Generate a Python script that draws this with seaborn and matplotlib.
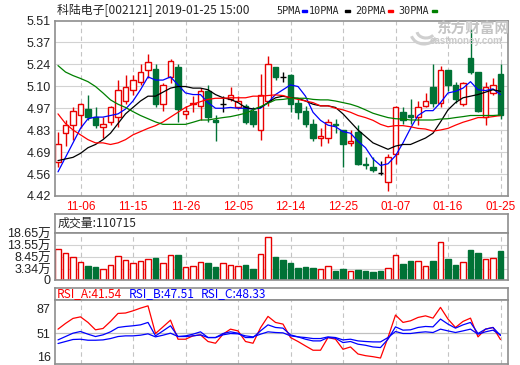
import numpy as np
import pandas as pd
import matplotlib
matplotlib.use("Agg")
import matplotlib.pyplot as plt
from matplotlib.patches import Rectangle, Arc
import seaborn as sns

sns.set_style("white")
plt.rcParams['font.family'] = ['Liberation Sans', 'Noto Sans CJK SC', 'DejaVu Sans']

# ---------------- data ----------------
title = "科陆电子[002121] 2019-01-25 15:00"
trade_days = pd.bdate_range("2018-11-01", "2019-01-25")
trade_days = trade_days[~trade_days.isin(pd.to_datetime(["2018-12-31", "2019-01-01"]))]
date_labels = ["11-06", "11-15", "11-26", "12-05", "12-14", "12-25", "01-07", "01-16", "01-25"]

opens = [4.63, 4.81, 4.86, 4.92, 4.96, 4.91, 4.85, 4.88, 4.91, 5.01,
         5.08, 5.13, 5.20, 5.21, 4.99, 5.16, 5.22, 4.93, 4.99, 4.98,
         5.07, 4.89, 4.99, 5.02, 4.97, 4.98, 4.95, 4.83, 5.01, 5.22,
         5.16, 5.17, 5.00, 4.95, 4.87, 4.78, 4.78, 4.87, 4.83, 4.75,
         4.82, 4.62, 4.60, 4.56, 4.51, 4.68, 4.94, 4.92, 4.91, 4.98,
         5.10, 5.00, 5.20, 5.11, 4.99, 5.28, 5.19, 4.91, 5.06, 5.18]
closes = [4.74, 4.86, 4.95, 4.99, 4.91, 4.86, 4.87, 4.97, 5.08, 5.10,
          5.14, 5.19, 5.25, 4.99, 5.11, 5.26, 4.96, 4.95, 5.00, 5.07,
          4.91, 4.88, 4.99, 5.05, 5.01, 4.88, 4.87, 5.05, 5.24, 5.16,
          5.16, 4.99, 4.94, 4.87, 4.78, 4.79, 4.88, 4.86, 4.74, 4.76,
          4.62, 4.61, 4.58, 4.56, 4.66, 4.97, 4.89, 4.91, 4.97, 5.01,
          5.00, 5.20, 5.11, 5.02, 5.12, 5.19, 4.95, 5.10, 5.11, 4.92]
highs = [4.82, 4.89, 4.97, 5.00, 5.05, 4.97, 4.91, 4.98, 5.14, 5.17,
         5.17, 5.24, 5.30, 5.24, 5.12, 5.27, 5.24, 4.98, 5.04, 5.09,
         5.11, 4.92, 5.04, 5.10, 5.04, 4.99, 4.97, 5.18, 5.29, 5.22,
         5.19, 5.18, 5.03, 4.98, 4.90, 4.84, 4.90, 4.90, 4.83, 4.83,
         4.86, 4.66, 4.66, 4.64, 4.68, 4.98, 4.97, 5.02, 5.01, 5.06,
         5.24, 5.23, 5.20, 5.13, 5.13, 5.46, 5.19, 5.13, 5.15, 5.24]
lows = [4.60, 4.73, 4.77, 4.84, 4.89, 4.84, 4.78, 4.86, 4.85, 4.99,
        5.05, 5.11, 5.15, 4.97, 4.95, 5.12, 4.88, 4.90, 4.94, 4.89,
        4.88, 4.76, 4.94, 5.01, 4.96, 4.87, 4.85, 4.77, 4.98, 5.14,
        5.13, 4.94, 4.90, 4.85, 4.76, 4.73, 4.75, 4.81, 4.60, 4.73,
        4.61, 4.59, 4.57, 4.55, 4.45, 4.62, 4.87, 4.87, 4.86, 4.97,
        4.97, 4.97, 5.07, 5.00, 4.98, 5.18, 4.94, 4.86, 5.05, 4.90]

ma5 = [4.57, 4.66, 4.75, 4.84, 4.90, 4.91, 4.91, 4.92, 4.93, 4.96,
       5.01, 5.08, 5.16, 5.14, 5.14, 5.16, 5.11, 5.06, 5.05, 5.05,
       5.00, 4.965, 4.965, 4.97, 4.965, 4.965, 4.96, 4.965, 5.00, 5.05,
       5.08, 5.11, 5.10, 5.04, 4.94, 4.89, 4.86, 4.85, 4.82, 4.81,
       4.76, 4.72, 4.65, 4.61, 4.62, 4.67, 4.75, 4.84, 4.92, 4.95,
       4.95, 5.00, 5.06, 5.07, 5.09, 5.13, 5.08, 5.075, 5.085, 5.05]
ma10 = [4.64, 4.65, 4.66, 4.685, 4.72, 4.74, 4.77, 4.81, 4.87, 4.93,
        4.97, 5.01, 5.04, 5.04, 5.065, 5.09, 5.10, 5.10, 5.09, 5.09,
        5.08, 5.05, 5.03, 5.02, 5.00, 4.97, 4.96, 4.97, 5.00, 5.03,
        5.04, 5.03, 5.027, 5.01, 4.99, 4.98, 4.98, 4.97, 4.93, 4.88,
        4.83, 4.79, 4.75, 4.73, 4.71, 4.73, 4.74, 4.74, 4.76, 4.78,
        4.81, 4.88, 4.955, 5.00, 5.03, 5.04, 5.05, 5.065, 5.08, 5.07]
ma20 = [4.93, 4.87, 4.83, 4.80, 4.77, 4.75, 4.75, 4.74, 4.75, 4.77,
        4.80, 4.82, 4.84, 4.857, 4.88, 4.91, 4.94, 4.97, 4.99, 5.006,
        5.02, 5.027, 5.027, 5.03, 5.03, 5.03, 5.04, 5.04, 5.044, 5.048,
        5.044, 5.03, 5.02, 5.01, 5.00, 4.98, 4.98, 4.965, 4.955, 4.94,
        4.92, 4.907, 4.89, 4.865, 4.85, 4.857, 4.857, 4.85, 4.84, 4.836,
        4.823, 4.83, 4.84, 4.86, 4.878, 4.892, 4.907, 4.907, 4.913, 4.92]
ma30 = [5.23, 5.19, 5.168, 5.15, 5.13, 5.10, 5.06, 5.017, 4.99, 4.97,
        4.944, 4.92, 4.90, 4.88, 4.865, 4.865, 4.865, 4.865, 4.878, 4.892,
        4.892, 4.90, 4.907, 4.913, 4.923, 4.934, 4.955, 4.975, 4.996, 5.017,
        5.02, 5.027, 5.027, 5.027, 5.02, 5.017, 5.017, 5.01, 5.00, 4.99,
        4.975, 4.955, 4.934, 4.92, 4.907, 4.90, 4.898, 4.892, 4.892, 4.892,
        4.892, 4.898, 4.90, 4.907, 4.913, 4.92, 4.92, 4.92, 4.92, 4.923]

volume_wan = [11.84, 10.14, 8.44, 6.32, 4.74, 4.32, 3.34, 5.04, 8.86, 7.16,
              6.02, 6.74, 7.59, 8.14, 6.02, 9.29, 9.42, 4.19, 4.61, 6.32,
              6.02, 4.32, 6.02, 5.04, 4.61, 5.17, 3.47, 9.84, 16.94, 8.57,
              7.29, 6.15, 3.89, 4.32, 3.89, 3.34, 4.61, 2.62, 3.47, 2.49,
              3.04, 2.62, 2.19, 2.62, 3.77, 9.29, 5.59, 6.87, 6.74, 4.61,
              6.87, 14.82, 7.72, 5.17, 6.32, 11.54, 10.27, 7.59, 8.01, 11.07]
latest_volume = 110715

rsi_a = [57, 65.5, 73, 75.3, 67, 56, 58, 68.5, 80.4, 81,
         84.3, 88.3, 91.7, 50.5, 60.4, 70.4, 42, 42, 47, 48.5,
         38.6, 36, 49.5, 57, 54.4, 38.6, 36, 59, 76, 67,
         64.5, 44.5, 38.6, 32, 25.6, 25.6, 44.5, 42, 27, 30.5,
         20, 17.5, 16, 14, 44.5, 78, 67, 69.4, 74.4, 76.8,
         73.4, 89.4, 72, 59.5, 68.5, 73.4, 45.5, 57, 59.5, 41.54]
rsi_b = [41, 46, 51, 53.5, 49.5, 46, 48.5, 53, 59.5, 61,
         62, 63.4, 67, 47, 54.4, 62, 46, 47, 49.5, 53,
         44.5, 44.5, 50.5, 53, 51, 44.5, 44.5, 54.4, 63.4, 59.5,
         58.5, 48.5, 45.5, 42, 39.5, 39.5, 44.5, 43.5, 37, 38.6,
         34.6, 33, 30.5, 29.6, 42, 60.4, 55.5, 56, 59.5, 61,
         60.4, 72, 64.5, 58.5, 63.4, 67, 50.5, 57, 59.5, 47.51]
rsi_c = [35.6, 38.6, 41.6, 42, 40.5, 40.5, 41, 43, 46, 47,
         47, 48, 50, 45.5, 48, 51, 46, 46, 47, 48.5,
         44.5, 44.5, 48.5, 50.5, 50, 47, 45.5, 49.5, 53, 52,
         51.5, 47, 45.5, 44.5, 43, 43, 45.5, 44.5, 41, 42,
         39.5, 38.6, 38, 38, 44.5, 53.5, 50.5, 50.5, 52, 53,
         52, 57, 54.4, 52, 54.4, 57, 49.5, 53, 55.5, 48.33]

price_ticks = ["4.42", "4.56", "4.69", "4.83", "4.97", "5.10", "5.24", "5.37", "5.51"]
vol_ticks = [0, 3.34, 8.45, 13.55, 18.65]
rsi_ticks = [16, 51, 87]
legend_labels = ["5PMA", "10PMA", "20PMA", "30PMA"]

# ---------------- styling ----------------
RED = "#e80000"
GREEN = "#007236"
BORDER = "#8e8e8e"
GRID = "#d2d2d2"
VGRID = "#c4c4c4"
MA_COLORS = ["#0000ff", "black", "#ff0000", "#008000"]
W, H = 520, 365
L, R = 55, 508

df = pd.DataFrame({"date": trade_days.strftime("%m-%d"), "open": opens, "close": closes,
                   "high": highs, "low": lows, "ma5": ma5, "ma10": ma10, "ma20": ma20,
                   "ma30": ma30, "vol": volume_wan, "rsi_a": rsi_a, "rsi_b": rsi_b, "rsi_c": rsi_c})
df["i"] = np.arange(len(df))
prev_close = df["close"].shift(1)
df["up"] = (df["close"] > df["open"]) | ((df["close"] == df["open"]) & (df["close"] > prev_close))
tick_pos = [int(df.index[df["date"] == d][0]) for d in date_labels]

fig = plt.figure(figsize=(W / 100, H / 100), dpi=100)


def box(l, t, r, b):
    return [l / W, 1 - b / H, (r - l) / W, (b - t) / H]


def style(ax):
    for s in ax.spines.values():
        s.set_color(BORDER)
        s.set_linewidth(1.2)
    ax.set_xlim(-0.4, 60)
    ax.set_xticks(tick_pos)
    for p in tick_pos:
        ax.axvline(p, color=VGRID, lw=0.8, ls=(0, (4, 3)), zorder=0)
    ax.tick_params(length=0, labelsize=9, colors="#222222", pad=3)
    ax.set_xlabel("")
    ax.set_ylabel("")


# ---- main price panel ----
ax = fig.add_axes(box(L, 20.5, R, 196))
style(ax)
pmin, pmax = float(price_ticks[0]), float(price_ticks[-1])
ax.set_ylim(pmin, pmax)
yt = np.linspace(pmin, pmax, len(price_ticks))
ax.set_yticks(yt)
ax.set_yticklabels(price_ticks)
for y in yt[1:-1]:
    ax.axhline(y, color=GRID, lw=0.8, zorder=0)
ax.set_xticklabels(date_labels, color="#ff0000", fontsize=8.5)
ax.tick_params(axis="x", pad=3.5)

bw = 0.74
for r in df.itertuples():
    if r.close > r.open:
        ax.bar(r.i, r.close - r.open, bottom=r.open, width=bw, facecolor="white",
               edgecolor=RED, lw=1.0, zorder=2)
        ax.vlines(r.i, r.close, r.high, color=RED, lw=1.0, zorder=2)
        ax.vlines(r.i, r.low, r.open, color=RED, lw=1.0, zorder=2)
    elif r.close < r.open:
        ax.bar(r.i, r.open - r.close, bottom=r.close, width=bw, facecolor=GREEN,
               edgecolor=GREEN, lw=1.0, zorder=2)
        ax.vlines(r.i, r.low, r.high, color=GREEN, lw=1.0, zorder=2)
    else:
        ax.hlines(r.open, r.i - bw / 2, r.i + bw / 2, color="black", lw=1.0, zorder=2)
        ax.vlines(r.i, r.low, r.high, color="black", lw=1.0, zorder=2)

for col, c in zip(["ma5", "ma10", "ma20", "ma30"], MA_COLORS):
    sns.lineplot(data=df, x="i", y=col, ax=ax, color=c, lw=0.9, zorder=3)
ax.set_xlabel("")
ax.set_ylabel("")

# watermark (logo swoosh + text)
for (cx, cy, ww, hh, t1, t2) in [(424, 33, 26, 22, 200, 330), (426, 31, 18, 14, 190, 320)]:
    fig.add_artist(Arc((cx / W, 1 - cy / H), ww / W, hh / H, theta1=t1, theta2=t2,
                       color="#cfcfcf", lw=2.2, transform=fig.transFigure))
fig.text(473 / W, 1 - 29 / H, "东方财富网", fontsize=10.5, fontweight="bold", color="#c4c4c4",
         ha="center", va="center", family=["Noto Sans CJK SC"])
fig.text(466 / W, 1 - 41.5 / H, "eastmoney.com", fontsize=7, fontweight="bold", color="#cacaca",
         ha="center", va="center")

# title & legend
hdr_font = ["Noto Sans CJK SC", "DejaVu Sans"]
fig.text(57 / W, 1 - 10.5 / H, title, fontsize=8.6, ha="left", va="center", family=hdr_font)
legend_text_x = [276, 309, 355, 398]
legend_mark_x = [302, 345, 388, 432]
for lab, tx, mx, c in zip(legend_labels, legend_text_x, legend_mark_x, MA_COLORS):
    fig.text(tx / W, 1 - 10.5 / H, lab, fontsize=7.3, ha="left", va="center",
             family=["DejaVu Sans Mono"])
    fig.add_artist(Rectangle((mx / W, 1 - 12.3 / H), 5 / W, 2.6 / H, color=c,
                             transform=fig.transFigure))

# ---- volume panel ----
axh = fig.add_axes(box(L, 214, R, 232.7))
for s in axh.spines.values():
    s.set_color(BORDER)
    s.set_linewidth(1.2)
axh.set_xticks([])
axh.set_yticks([])
axh.text(0.005, 0.5, f"成交量:{latest_volume}", transform=axh.transAxes, fontsize=8.6,
         ha="left", va="center", family=hdr_font)

axv = fig.add_axes(box(L, 232.7, R, 280))
style(axv)
vbase = -1.21
axv.set_ylim(vbase, 18.9)
axv.set_yticks([vbase] + vol_ticks[1:])
axv.set_yticklabels(["0"] + [f"{v:.2f}万" for v in vol_ticks[1:]])
axv.set_xticklabels([])
for y in vol_ticks[1:-1]:
    axv.axhline(y, color=GRID, lw=0.8, zorder=0)
for r in df.itertuples():
    if r.up:
        axv.bar(r.i, r.vol - vbase, bottom=vbase, width=0.72, facecolor="white",
                edgecolor=RED, lw=1.0, zorder=2)
    else:
        axv.bar(r.i, r.vol - vbase, bottom=vbase, width=0.72, facecolor=GREEN,
                edgecolor=GREEN, lw=1.0, zorder=2)

# ---- RSI panel ----
axr_h = fig.add_axes(box(L, 288, R, 300))
for s in axr_h.spines.values():
    s.set_color(BORDER)
    s.set_linewidth(1.2)
axr_h.set_xticks([])
axr_h.set_yticks([])
for lab, val, c, tx in [("RSI_A", rsi_a[-1], "#ff0000", 57), ("RSI_B", rsi_b[-1], "#0000ff", 129),
                        ("RSI_C", rsi_c[-1], "#0000ff", 201)]:
    fig.text(tx / W, 1 - 294 / H, f"{lab}:{val:.2f}", fontsize=8.6, color=c, ha="left",
             va="center", family=hdr_font)

axr = fig.add_axes(box(L, 300, R, 364))
style(axr)
axr.set_ylim(5.1, 100.4)
axr.set_yticks(rsi_ticks)
axr.set_xticklabels([])
axr.axhline(51, color="#c0c0c0", lw=0.9, zorder=0)
sns.lineplot(data=df, x="i", y="rsi_a", ax=axr, color="#ff0000", lw=0.9)
sns.lineplot(data=df, x="i", y="rsi_b", ax=axr, color="#0000ff", lw=0.9)
sns.lineplot(data=df, x="i", y="rsi_c", ax=axr, color="#0000ff", lw=0.9)
axr.set_xlabel("")
axr.set_ylabel("")

fig.savefig("out.png", dpi=100, facecolor="white")
